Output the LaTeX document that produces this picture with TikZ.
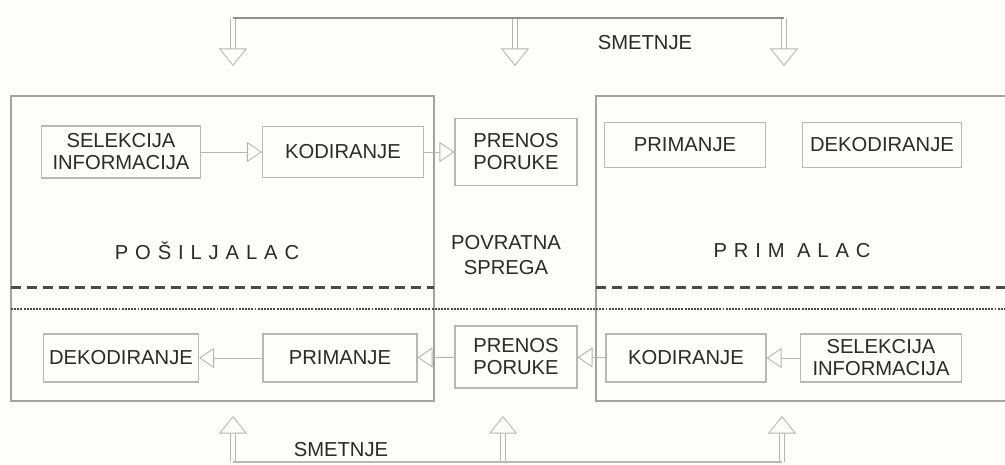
\documentclass[tikz,border=0pt]{standalone}
\usepackage{fontspec}
\setmainfont{Liberation Sans}
\newfontfamily\spacedfont[LetterSpace=34]{Liberation Sans}
\usetikzlibrary{arrows.meta}
\definecolor{ink}{HTML}{2A2A2A}
\definecolor{boxgray}{HTML}{B8B8B8}
\definecolor{framegray}{HTML}{A3A3A3}
\definecolor{arrowgray}{HTML}{B5B5B5}
\definecolor{linegray}{HTML}{8E8E8E}
\definecolor{dashgray}{HTML}{4A4A4A}
\definecolor{paper}{HTML}{FDFDFA}

\begin{document}
\begin{tikzpicture}[x=0.02cm, y=-0.02cm,
  every node/.style={font=\fontsize{11.5}{12.5}\selectfont, text=ink, align=center},
  block/.style={draw=boxgray, line width=0.7pt, inner sep=0pt, minimum width=3.2cm, minimum height=0.96cm},
  hollow/.style={draw=arrowgray, line width=0.5pt, double=paper, double distance=2.8pt,
    -{Triangle[open, length=8.5pt, width=11.5pt]}},
  bighollow/.style={hollow, -{Triangle[open, length=10pt, width=16pt]}}]
 \clip (0,0) rectangle (1005,464);
 \fill[paper] (0,0) rectangle (1005,464);
 % sender and receiver frames
 \draw[framegray, line width=0.6pt] (11,96) rectangle (434,401) (596,96) rectangle (1015,401);
 \draw[dashgray, line width=1.7pt, dash pattern=on 5.7pt off 3.4pt] (11,287) -- (434,287) (596,287) -- (1005,287);
 \draw[dashgray, line width=1.3pt, dash pattern=on 1.1pt off 0.7pt] (11,309) -- (1005,309);

 % upper row
 \node[block, minimum width=3.18cm, minimum height=1.04cm] (sel1) at (121,152) {SELEKCIJA\\INFORMACIJA};
 \node[block, minimum width=3.22cm, minimum height=1.02cm] (kod1) at (343,152) {KODIRANJE};
 \node[block, minimum width=2.44cm, minimum height=1.34cm] (pren1) at (516,152) {PRENOS\\PORUKE};
 \node[block, minimum width=3.22cm, minimum height=0.9cm] (prim1) at (685,145) {PRIMANJE};
 \node[block, minimum width=3.18cm, minimum height=0.9cm] (dek1) at (882,145) {DEKODIRANJE};

 % lower row
 \node[block, minimum width=3.1cm] (dek2) at (121,358) {DEKODIRANJE};
 \node[block, minimum width=3.08cm] (prim2) at (340,358) {PRIMANJE};
 \node[block, minimum width=2.44cm, minimum height=1.24cm] (pren2) at (516,357) {PRENOS\\PORUKE};
 \node[block] (kod2) at (686,358) {KODIRANJE};
 \node[block, minimum width=3.22cm] (sel2) at (881,358) {SELEKCIJA\\INFORMACIJA};

 \node (pos) at (207,251) {\spacedfont POŠILJALAC};
 \node (pri) at (792,251) {\spacedfont PRIM ALAC};
 \node[font=\fontsize{11.5}{14}\selectfont] (pov) at (506,255) {POVRATNA\\SPREGA};

 \path[hollow]
  (sel1) edge (kod1)
  (kod1) edge (pren1)
  (sel2) edge (kod2)
  (kod2) edge (pren2)
  (pren2) edge (prim2)
  (prim2) edge (dek2);

 % disturbances
 \coordinate (s1) at (233,18);  \coordinate (t1) at (233,66);
 \coordinate (s2) at (515,18);  \coordinate (t2) at (515,66);
 \coordinate (s3) at (784,18);  \coordinate (t3) at (784,66);
 \coordinate (b1) at (233,462); \coordinate (u1) at (233,416);
 \coordinate (b2) at (503,462); \coordinate (u2) at (503,416);
 \coordinate (b3) at (782,462); \coordinate (u3) at (782,416);
 \draw[bighollow] (s1) -- (t1);
 \draw[bighollow] (s2) -- (t2);
 \draw[bighollow] (s3) -- (t3);
 \draw[bighollow] (b1) -- (u1);
 \draw[bighollow] (b2) -- (u2);
 \draw[bighollow] (b3) -- (u3);
 \draw[linegray, line width=1.4pt] (s1) -- (s3);
 \draw[boxgray, line width=1pt] (b1) -- (b3);
 \node (sm1) at (645,43) {SMETNJE};
 \node (sm2) at (341,450) {SMETNJE};
\end{tikzpicture}
\end{document}
